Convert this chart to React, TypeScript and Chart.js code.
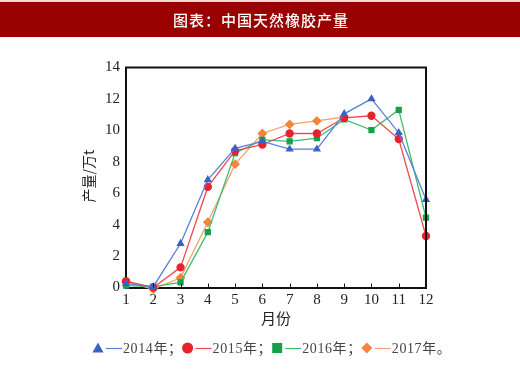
import React, { useEffect, useRef } from "react";
import { Chart, registerables } from "chart.js";

Chart.register(...registerables);

const TITLE = "图表：中国天然橡胶产量";
const MONTHS = ["1", "2", "3", "4", "5", "6", "7", "8", "9", "10", "11", "12"];
const Y_TITLE = "产量/万t";
const X_TITLE = "月份";
const SERIES_NAMES = ["2014年", "2015年", "2016年", "2017年"];
const S2014 = [0.25, 0.05, 2.8, 6.85, 8.85, 9.3, 8.8, 8.8, 11.05, 12.0, 9.85, 5.6];
const S2015 = [0.4, 0.0, 1.28, 6.4, 8.7, 9.1, 9.8, 9.8, 10.8, 10.93, 9.45, 3.28];
const S2016 = [0.12, 0.05, 0.33, 3.52, 8.55, 9.4, 9.3, 9.5, 10.7, 10.02, 11.3, 4.45];
const S2017 = [0.35, -0.1, 0.62, 4.15, 7.85, 9.8, 10.38, 10.6, 10.85, null, null, null];
const MARKER_COLORS = ["#3a62c4", "#e8212b", "#16a04a", "#f5843e"];
const LINE_COLORS = ["#5b80d8", "#ee4a50", "#3cbd6c", "#f7a070"];
const MARKERS = ["triangle", "circle", "rect", "rectRot"];

const SERIF = "'Liberation Serif', 'Noto Sans CJK SC', serif";
const CJK = "'Noto Sans CJK SC', sans-serif";

export default function App() {
  const ref = useRef<HTMLCanvasElement>(null);
  useEffect(() => {
    document.body.style.margin = "0";
    const canvas = ref.current!;
    const series = [S2014, S2015, S2016, S2017];
    const decor = {
      id: "decor",
      beforeDraw(chart: any) {
        const ctx = chart.ctx;
        ctx.save();
        ctx.fillStyle = "#ffffff";
        ctx.fillRect(0, 0, chart.width, chart.height);
        ctx.fillStyle = "#f3d6d6";
        ctx.fillRect(0, 0, chart.width, 2);
        ctx.fillStyle = "#990000";
        ctx.fillRect(0, 2, chart.width, 35);
        ctx.fillStyle = "#ffffff";
        ctx.font = "500 15px " + CJK;
        (ctx as any).letterSpacing = "1px";
        ctx.textAlign = "center";
        ctx.textBaseline = "middle";
        ctx.fillText(TITLE, chart.width / 2 + 1, 20);
        ctx.restore();
      },
      afterDraw(chart: any) {
        const ctx = chart.ctx;
        const a = chart.chartArea;
        const xs = chart.scales.x;
        ctx.save();
        ctx.strokeStyle = "#111";
        ctx.lineWidth = 2;
        ctx.beginPath();
        ctx.moveTo(a.left - 1, a.top);
        ctx.lineTo(a.right, a.top);
        ctx.lineTo(a.right, a.bottom + 1);
        ctx.stroke();
        ctx.lineWidth = 1;
        ctx.beginPath();
        for (let i = 1; i < MONTHS.length - 1; i++) {
          const px = Math.round(xs.getPixelForValue(i)) + 0.5;
          ctx.moveTo(px, a.bottom);
          ctx.lineTo(px, a.bottom - 4);
        }
        ctx.stroke();
        // axis titles
        ctx.fillStyle = "#222";
        ctx.font = "15px " + CJK;
        ctx.textAlign = "center";
        ctx.textBaseline = "middle";
        ctx.fillText(X_TITLE, (a.left + a.right) / 2, 318);
        ctx.save();
        ctx.translate(89, 176);
        ctx.rotate(-Math.PI / 2);
        ctx.font = "14px " + CJK;
        ctx.fillText(Y_TITLE, 0, 0);
        ctx.restore();
        // legend
        let x = 93;
        const y = 348;
        ctx.textAlign = "left";
        for (let i = 0; i < SERIES_NAMES.length; i++) {
          const cx = x + 5;
          ctx.fillStyle = MARKER_COLORS[i];
          ctx.beginPath();
          if (i === 0) {
            ctx.moveTo(cx, y - 5.5);
            ctx.lineTo(cx + 5.5, y + 4.5);
            ctx.lineTo(cx - 5.5, y + 4.5);
            ctx.closePath();
          } else if (i === 1) {
            ctx.arc(cx, y, 5.5, 0, Math.PI * 2);
          } else if (i === 2) {
            ctx.rect(cx - 5, y - 5, 10, 10);
          } else {
            ctx.moveTo(cx, y - 5.5);
            ctx.lineTo(cx + 5.5, y);
            ctx.lineTo(cx, y + 5.5);
            ctx.lineTo(cx - 5.5, y);
            ctx.closePath();
          }
          ctx.fill();
          ctx.strokeStyle = LINE_COLORS[i];
          ctx.lineWidth = 1.2;
          ctx.beginPath();
          ctx.moveTo(cx + 8, y + 0.5);
          ctx.lineTo(cx + 24, y + 0.5);
          ctx.stroke();
          ctx.fillStyle = "#444";
          ctx.font = "14px " + SERIF;
          (ctx as any).letterSpacing = "0.6px";
          const label = SERIES_NAMES[i] + (i === SERIES_NAMES.length - 1 ? "。" : "；");
          ctx.fillText(label, cx + 25, y + 1);
          x = cx + 25 + ctx.measureText(label).width;
        }
        ctx.restore();
      },
    };
    const chart = new Chart(canvas, {
      type: "line",
      data: {
        labels: MONTHS,
        datasets: series.map((d, i) => ({
          label: SERIES_NAMES[i],
          data: d,
          borderColor: LINE_COLORS[i],
          backgroundColor: MARKER_COLORS[i],
          pointBackgroundColor: MARKER_COLORS[i],
          pointBorderColor: MARKER_COLORS[i],
          pointStyle: MARKERS[i] as any,
          pointRadius: i === 3 ? 4 : 3.5,
          borderWidth: 1.3,
          tension: 0,
          clip: false as any,
          spanGaps: false,
        })),
      },
      options: {
        responsive: false,
        animation: false,
        layout: { padding: { top: 67.5, right: 94, left: 0, bottom: 0 } },
        plugins: { legend: { display: false }, tooltip: { enabled: false } },
        scales: {
          x: {
            offset: false,
            grid: { display: false, drawTicks: false },
            border: { display: true, color: "#111", width: 2 },
            ticks: { color: "#222", font: { family: SERIF, size: 15 }, padding: 4, maxRotation: 0, autoSkip: false },
            afterFit: (s: any) => { s.height = 82.5; },
          },
          y: {
            min: 0,
            max: 14,
            grid: { display: false, drawTicks: false },
            border: { display: true, color: "#111", width: 2 },
            ticks: { stepSize: 2, color: "#222", font: { family: SERIF, size: 15 }, padding: 6 },
            afterFit: (s: any) => { s.width = 126; },
          },
        },
      },
      plugins: [decor],
    });
    return () => chart.destroy();
  }, []);
  return (
    <div style={{ position: "fixed", left: 0, top: 0, width: 520, height: 370 }}>
      <canvas ref={ref} width={520} height={370} style={{ width: 520, height: 370, display: "block" }} />
    </div>
  );
}
